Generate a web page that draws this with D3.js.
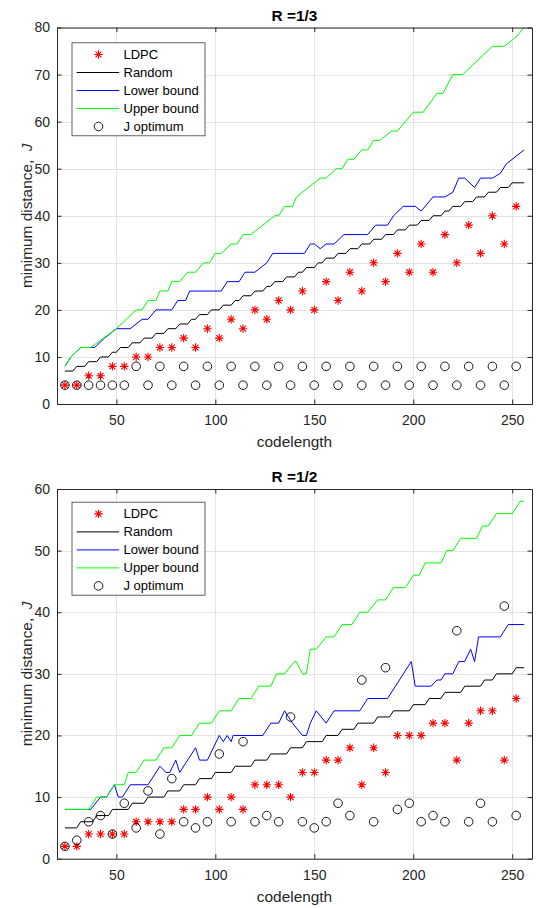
<!DOCTYPE html>
<html><head><meta charset="utf-8">
<script src="https://cdn.jsdelivr.net/npm/d3@7"></script>
<style>
body{margin:0;background:#fff;}
svg{display:block;font-family:"Liberation Sans",Arial,Helvetica,sans-serif;}
</style></head><body>
<svg id="c" width="539" height="908"></svg>
<script>
// ---------- data ----------
const codelengths = [24,30,36,42,48,54,60,66,72,78,84,90,96,102,108,114,120,126,132,138,144,150,156,162,168,174,180,186,192,198,204,210,216,222,228,234,240,246,252];

// R = 1/3
const ldpcTop = [4,4,6,6,8,8,10,10,12,12,14,12,16,14,18,16,20,18,22,20,24,20,26,22,28,24,30,26,32,28,34,28,36,30,38,32,40,34,42];
const joptTop = [4,4,4,4,4,4,8,4,8,4,8,4,8,4,8,4,8,4,8,4,8,4,8,4,8,4,8,4,8,4,8,4,8,4,8,4,8,4,8];
// [codelength where value is reached, distance]
const randomTopSteps = [[24,7],[30,8],[36,9],[42,10],[48,11],[52,12],[58,13],[64,14],[70,15],[76,16],[82,17],[88,18],[92,19],[98,20],[104,21],[110,22],[114,23],[120,24],[126,25],[130,26],[136,27],[142,28],[146,29],[152,30],[156,31],[162,32],[168,33],[174,34],[180,35],[186,36],[192,37],[198,38],[204,39],[210,40],[216,41],[220,42],[226,43],[232,44],[238,45],[244,46],[250,47],[256,47]];
const lowerTop = [[24,8],[27,10],[32,12],[39,12],[44,14],[50,16],[57,16],[63,18],[66,18],[70,20],[78,20],[81,22],[85,22],[87,24],[103,24],[106,26],[112,26],[115,28],[120,28],[126,30],[129,32],[145,32],[148,34],[150,34],[153,33],[156,34],[160,34],[165,36],[177,36],[181,38],[187,38],[190,40],[195,42],[201,42],[204,41],[210,44],[216,44],[220,45],[223,48],[226,48],[231,46],[234,48],[240,48],[244,49],[247,51],[256,54]];
const upperTop = [[24,8],[27,10],[32,12],[37,12],[50,16],[60,20],[63,20],[66,22],[70,22],[72,24],[76,24],[78,26],[82,26],[86,28],[90,28],[94,30],[97,30],[100,32],[103,32],[108,34],[111,34],[114,36],[118,36],[130,40],[132,40],[135,42],[139,42],[141,44],[153,48],[156,48],[161,50],[164,50],[167,52],[170,52],[174,54],[177,54],[180,56],[183,56],[189,58],[192,58],[200,62],[205,62],[212,66],[215,66],[220,70],[225,70],[230,72],[235,74],[240,76],[246,76],[252,78],[256,80]];

// R = 1/2
const ldpcBottom = [2,2,4,4,4,4,6,6,6,6,8,8,10,8,10,8,12,12,12,10,14,14,16,16,18,12,18,14,20,20,20,22,22,16,22,24,24,16,26];
const joptBottom = [2,3,6,7,4,9,5,11,4,13,6,5,6,17,6,19,6,7,6,23,6,5,6,9,7,29,6,31,8,9,6,7,6,37,6,9,6,41,7];
const randomBottomSteps = [[24,5],[32,6],[40,7],[48,8],[58,9],[66,10],[76,11],[84,12],[92,13],[100,14],[110,15],[120,16],[128,17],[138,18],[146,19],[156,20],[164,21],[172,22],[182,23],[190,24],[200,25],[208,26],[216,27],[226,28],[236,29],[242,30],[252,31],[256,31]];
const lowerBottom = [[24,8],[37,8],[42,10],[45,10],[49,12],[51,10],[53,10],[57,12],[66,12],[72,15],[75,14],[77,14],[80,16],[82,14],[90,18],[92,16],[96,16],[102,20],[104,19],[106,20],[108,19],[109,20],[124,20],[128,22],[132,22],[135,24],[137,23],[139,22],[144,20],[146,20],[148,22],[151,24],[156,22],[160,24],[173,24],[177,26],[187,26],[199,32],[201,28],[209,28],[212,29],[214,29],[216,30],[220,30],[223,32],[226,32],[229,34],[231,32],[233,36],[244,36],[248,38],[256,38]];
const upperBottom = [[24,8],[36,8],[40,10],[45,10],[49,12],[54,12],[56,14],[60,14],[64,16],[70,16],[74,18],[78,18],[82,20],[88,20],[92,22],[98,22],[102,24],[108,24],[112,26],[118,26],[122,28],[128,28],[131,30],[135,30],[140,32],[141,32],[144,30],[146,30],[148,34],[151,34],[156,36],[160,36],[164,38],[169,38],[173,40],[177,40],[182,42],[186,42],[190,44],[196,44],[200,46],[203,46],[206,48],[214,48],[217,50],[220,50],[224,52],[232,52],[235,54],[238,54],[242,56],[250,56],[254,58],[256,58]];

const xTicks = [50,100,150,200,250];
const yTicksTop = [0,10,20,30,40,50,60,70,80];
const yTicksBottom = [0,10,20,30,40,50,60];
const legendLabels = ["LDPC","Random","Lower bound","Upper bound","J optimum"];
const titles = ["R =1/3","R =1/2"];

// ---------- drawing ----------
const svg = d3.select("#c");
const L = 57, R = 532;
const AX = "#262626";
const asteriskPath = (s) => {
  const d = s*0.7071;
  return `M${-s},0H${s}M0,${-s}V${s}M${-d},${-d}L${d},${d}M${-d},${d}L${d},${-d}`;
};

function stepsToPoints(steps){
  const pts = [steps[0]];
  for (let i=1;i<steps.length;i++){
    pts.push([steps[i][0]-2, steps[i-1][1]]);
    pts.push(steps[i]);
  }
  return pts;
}

function chart(cfg){
  const g = svg.append("g");
  const x = d3.scaleLinear().domain([20,260]).range([L,R]);
  const y = d3.scaleLinear().domain([0,cfg.ymax]).range([cfg.B,cfg.T]);

  // grid
  g.append("g").selectAll("line.gx").data(xTicks).join("line")
    .attr("x1",d=>Math.round(x(d))+0.5).attr("x2",d=>Math.round(x(d))+0.5)
    .attr("y1",cfg.T).attr("y2",cfg.B).attr("stroke","#e3e3e3").attr("stroke-width",1);
  g.append("g").selectAll("line.gy").data(cfg.yTicks).join("line")
    .attr("y1",d=>Math.round(y(d))+0.5).attr("y2",d=>Math.round(y(d))+0.5)
    .attr("x1",L).attr("x2",R).attr("stroke","#e3e3e3").attr("stroke-width",1);

  const line = d3.line().x(d=>x(d[0])).y(d=>y(d[1]));
  const pts = codelengths.map((n,i)=>({n, ldpc:cfg.ldpc[i], jopt:cfg.jopt[i]}));

  // LDPC markers
  g.append("g").selectAll("path").data(pts).join("path")
    .attr("transform",d=>`translate(${x(d.n)},${y(d.ldpc)})`)
    .attr("d",asteriskPath(4.2)).attr("stroke","#ff0000").attr("stroke-width",1.1).attr("fill","none");

  g.append("path").datum(stepsToPoints(cfg.random)).attr("d",line)
    .attr("fill","none").attr("stroke","#000").attr("stroke-width",1);
  g.append("path").datum(cfg.lower).attr("d",line)
    .attr("fill","none").attr("stroke","#0000ff").attr("stroke-width",1);
  g.append("path").datum(cfg.upper).attr("d",line)
    .attr("fill","none").attr("stroke","#00ff00").attr("stroke-width",1);

  // J optimum circles
  g.append("g").selectAll("circle").data(pts).join("circle")
    .attr("cx",d=>x(d.n)).attr("cy",d=>y(d.jopt)).attr("r",4.3)
    .attr("fill","none").attr("stroke","#000").attr("stroke-width",0.9);

  // axes
  const styleAxis = (sel)=>{
    sel.selectAll(".domain").attr("stroke",AX).attr("stroke-width",1);
    sel.selectAll(".tick line").attr("stroke",AX).attr("stroke-width",1);
    sel.selectAll("text").attr("fill",AX).style("font-size","14px")
      .style("font-family","'Liberation Sans',Arial,sans-serif");
  };
  g.append("g").attr("transform",`translate(0,${cfg.B})`)
    .call(d3.axisBottom(x).tickValues(xTicks).tickSizeInner(-4.5).tickSizeOuter(0).tickPadding(11))
    .call(styleAxis);
  g.append("g").attr("transform",`translate(0,${cfg.T})`)
    .call(d3.axisTop(x).tickValues(xTicks).tickSizeInner(-4.5).tickSizeOuter(0).tickFormat(""))
    .call(styleAxis);
  g.append("g").attr("transform",`translate(${L},0)`)
    .call(d3.axisLeft(y).tickValues(cfg.yTicks).tickSizeInner(-4.5).tickSizeOuter(0).tickPadding(7))
    .call(styleAxis);
  g.append("g").attr("transform",`translate(${R},0)`)
    .call(d3.axisRight(y).tickValues(cfg.yTicks).tickSizeInner(-4.5).tickSizeOuter(0).tickFormat(""))
    .call(styleAxis);

  // title & labels
  g.append("text").attr("x",(L+R)/2).attr("y",cfg.titleY).attr("dy","0.35em")
    .attr("text-anchor","middle").style("font-size","15.4px").style("font-weight","bold")
    .attr("fill","#000").text(cfg.title);
  g.append("text").attr("x",(L+R)/2).attr("y",cfg.B+38).attr("dy","0.35em")
    .attr("text-anchor","middle").style("font-size","15.4px").attr("fill",AX).text("codelength");
  const yl = g.append("text").attr("transform",`translate(31.5,${(cfg.T+cfg.B)/2}) rotate(-90)`)
    .attr("text-anchor","middle").style("font-size","15.4px").style("white-space","pre").attr("fill",AX);
  yl.append("tspan").text("minimum distance,  ");
  yl.append("tspan").style("font-style","italic").text("J");

  // legend
  const lg = g.append("g").attr("transform",`translate(71.5,${cfg.legTop})`);
  lg.append("rect").attr("x",0.5).attr("y",0.5).attr("width",133).attr("height",93)
    .attr("fill","#fff").attr("stroke","#3a3a3a").attr("stroke-width",0.8);
  legendLabels.forEach((lab,i)=>{
    const yy = 12.2 + i*18;
    if (i===0){
      lg.append("path").attr("transform",`translate(27,${yy})`).attr("d",asteriskPath(4.2))
        .attr("stroke","#ff0000").attr("stroke-width",1.1).attr("fill","none");
    } else if (i===4){
      lg.append("circle").attr("cx",27).attr("cy",yy).attr("r",4.3)
        .attr("fill","none").attr("stroke","#000").attr("stroke-width",0.9);
    } else {
      const col = ["","#000","#0000ff","#00ff00"][i];
      lg.append("line").attr("x1",5.2).attr("x2",47.7).attr("y1",yy).attr("y2",yy)
        .attr("stroke",col).attr("stroke-width",1);
    }
    lg.append("text").attr("x",52).attr("y",yy).attr("dy","0.35em")
      .style("font-size","13px").attr("fill","#000").text(lab);
  });
}

chart({T:27.5,B:404,ymax:80,yTicks:yTicksTop,title:titles[0],titleY:16,legTop:42.3,
  ldpc:ldpcTop,jopt:joptTop,random:randomTopSteps,lower:lowerTop,upper:upperTop});
chart({T:489,B:858.7,ymax:60,yTicks:yTicksBottom,title:titles[1],titleY:477,legTop:501.7,
  ldpc:ldpcBottom,jopt:joptBottom,random:randomBottomSteps,lower:lowerBottom,upper:upperBottom});
</script>
</body></html>
